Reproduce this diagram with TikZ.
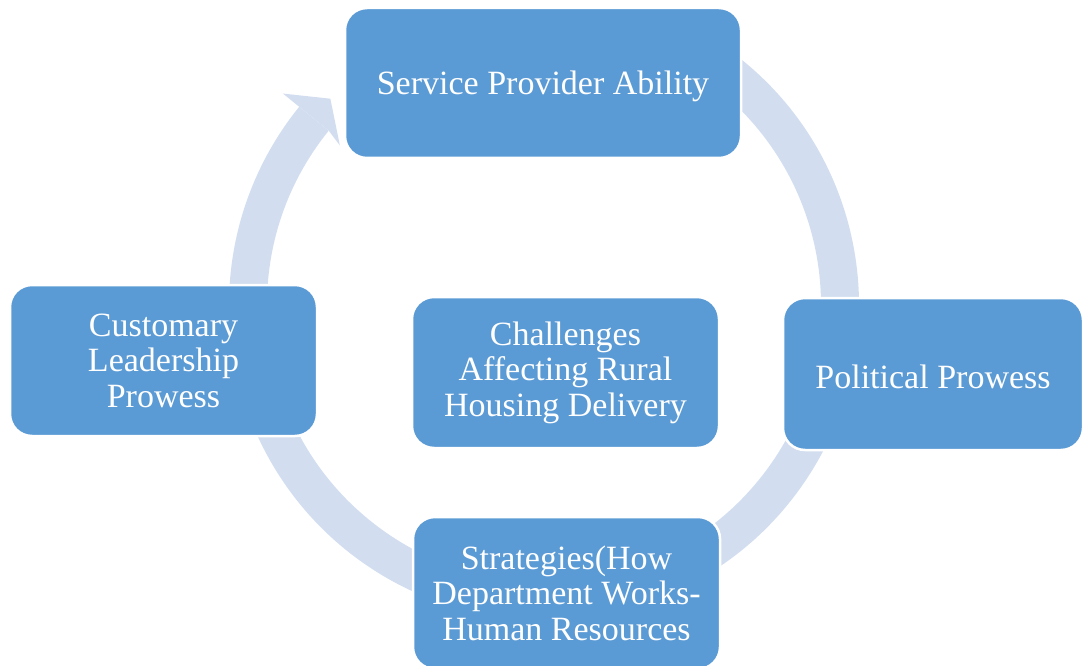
\documentclass[tikz,border=0pt]{standalone}
\usepackage{fontspec}
\setmainfont{Liberation Serif}

\definecolor{boxblue}{HTML}{5B9BD5}
\definecolor{ringblue}{HTML}{D2DEEF}

\begin{document}
\begin{tikzpicture}[x=1pt, y=1pt,
        box/.style={fill=boxblue, draw=white, line width=2.5pt, rounded corners=22pt,
                text=white, align=center, inner sep=0pt,
                font=\fontsize{34}{35.5}\selectfont,
                execute at begin node={\rule{0pt}{29.5pt}}}]

        \useasboundingbox (0,0) rectangle (1083,665) ;

        % ring
        \fill [ringblue, shift={(544,360)}] (55:315) arc [start angle=55, end angle=-219, radius=315]
                -- (141:277) arc [start angle=-219, end angle=55, radius=277] -- cycle ;
        \fill [ringblue, shift={(544,360)}] (141:317) -- (141:336) -- (136:297) -- (142:259) -- (141:277) -- cycle ;

        % boxes
        \node [box, minimum width=396pt, minimum height=150pt] (service) at (543,582) {Service Provider Ability} ;
        \node [box, minimum width=300pt, minimum height=152pt] (political) at (933,291) {Political Prowess} ;
        \node [box, minimum width=307pt, minimum height=152pt] (strategies) at (566.5,72) {Strategies(How\\Department Works-\\Human Resources} ;
        \node [box, minimum width=307pt, minimum height=151pt] (customary) at (163.5,304.5) {Customary\\Leadership\\Prowess} ;
        \node [box, minimum width=307pt, minimum height=151pt] (challenges) at (565.5,292.5) {Challenges\\Affecting Rural\\Housing Delivery} ;

      \end{tikzpicture}
\end{document}
